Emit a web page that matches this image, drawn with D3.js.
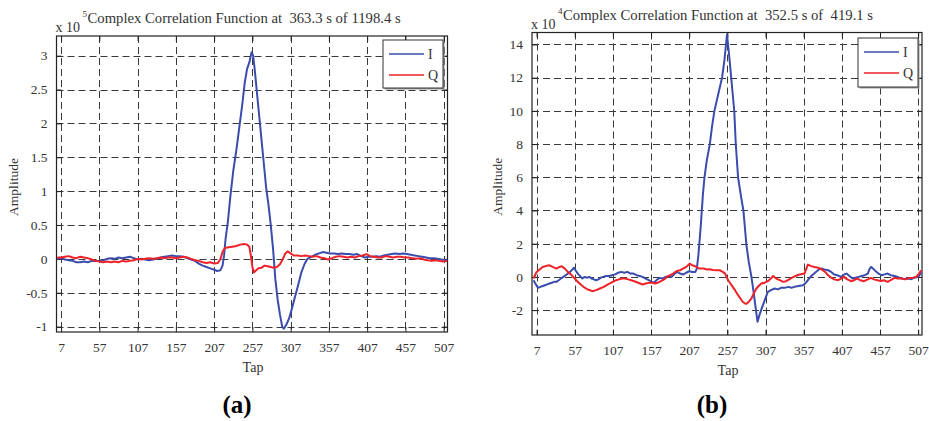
<!DOCTYPE html>
<html>
<head>
<meta charset="utf-8">
<script src="https://cdn.jsdelivr.net/npm/d3@7"></script>
<style>
  html, body { margin: 0; padding: 0; background: #fff; }
  svg { display: block; }
  text { font-family: "Liberation Serif", "Times New Roman", serif; fill: #333; }
</style>
</head>
<body>
<svg id="chart" width="929" height="421"></svg>
<script>
// Tap axis ticks shared by both panels
const tapTicks = [7, 57, 107, 157, 207, 257, 307, 357, 407, 457, 507];

// Panel (a): amplitude ticks (x 10^5)
const ampTicksA = [3, 2.5, 2, 1.5, 1, 0.5, 0, -0.5, -1];
// Panel (b): amplitude ticks (x 10^4)
const ampTicksB = [14, 12, 10, 8, 6, 4, 2, 0, -2];

const seriesNames = ["I", "Q"];
const seriesColors = ["#3a4cad", "#ee2229"];

// Panel (a) — in-phase component, [tap, amplitude]
const aI = [[2,0.0],[7,0.01],[12,-0.01],[17,-0.02],[22,-0.03],[27,-0.05],[32,-0.05],[37,-0.04],[42,-0.05],[47,-0.03],[52,-0.03],[57,-0.03],[62,-0.02],[67,0.0],[72,0.01],[77,0.0],[82,0.02],[87,0.01],[92,0.02],[97,0.03],[102,0.01],[107,-0.01],[112,0.0],[117,-0.01],[122,-0.02],[127,-0.01],[132,0.0],[137,0.02],[142,0.03],[147,0.04],[152,0.05],[157,0.04],[162,0.04],[167,0.03],[172,0.01],[177,-0.01],[182,-0.03],[187,-0.07],[192,-0.1],[197,-0.12],[202,-0.14],[207,-0.16],[211,-0.18],[215,-0.17],[218,-0.1],[220,0.05],[222,0.3],[225,0.55],[228,0.9],[232,1.3],[236,1.6],[240,1.95],[244,2.3],[247,2.6],[250,2.8],[253,2.9],[256,3.05],[258,3.0],[260,2.8],[263,2.45],[266,2.1],[269,1.75],[272,1.4],[275,1.05],[278,0.8],[281,0.5],[284,0.15],[287,-0.3],[290,-0.6],[293,-0.82],[296,-1.0],[298,-1.03],[301,-0.98],[305,-0.88],[309,-0.72],[313,-0.55],[317,-0.38],[321,-0.2],[325,-0.08],[329,0.0],[334,0.03],[339,0.06],[344,0.08],[349,0.1],[354,0.09],[359,0.08],[364,0.08],[369,0.07],[374,0.08],[379,0.07],[384,0.07],[389,0.06],[394,0.07],[399,0.04],[404,0.02],[409,0.03],[414,0.03],[419,0.04],[424,0.03],[429,0.05],[434,0.06],[439,0.07],[444,0.08],[449,0.07],[454,0.08],[459,0.07],[464,0.06],[469,0.05],[474,0.04],[479,0.03],[484,0.02],[489,0.01],[494,0.01],[499,0.0],[504,-0.01],[509,-0.02],[512,-0.02]];

// Panel (a) — quadrature component
const aQ = [[2,0.02],[7,0.02],[12,0.03],[17,0.04],[22,0.02],[27,0.01],[32,0.03],[37,0.02],[42,0.01],[47,-0.01],[52,-0.03],[57,-0.04],[62,-0.05],[67,-0.04],[72,-0.05],[77,-0.04],[82,-0.05],[87,-0.03],[92,-0.04],[97,-0.03],[102,-0.02],[107,0.0],[112,-0.01],[117,0.0],[122,0.01],[127,0.0],[132,0.01],[137,0.02],[142,0.01],[147,0.02],[152,0.02],[157,0.01],[162,0.02],[167,0.03],[172,0.02],[177,0.0],[182,-0.02],[187,-0.03],[192,-0.05],[197,-0.06],[202,-0.05],[207,-0.07],[212,-0.06],[215,-0.01],[218,0.1],[221,0.16],[226,0.17],[231,0.18],[236,0.19],[241,0.21],[246,0.22],[250,0.21],[253,0.18],[255,0.05],[257,-0.12],[259,-0.2],[262,-0.17],[265,-0.14],[269,-0.13],[273,-0.1],[277,-0.11],[281,-0.12],[285,-0.13],[289,-0.12],[293,-0.08],[297,0.0],[300,0.08],[303,0.11],[307,0.08],[311,0.05],[316,0.05],[321,0.04],[326,0.05],[331,0.04],[336,0.03],[341,0.04],[346,0.02],[351,0.01],[356,-0.01],[361,0.01],[366,0.03],[371,0.04],[376,0.03],[381,0.02],[386,0.03],[391,0.02],[396,0.04],[401,0.05],[406,0.07],[411,0.04],[416,0.03],[421,0.02],[426,0.02],[431,0.04],[436,0.03],[441,0.02],[446,0.03],[451,0.03],[456,0.02],[461,0.02],[466,0.01],[471,0.0],[476,0.01],[481,-0.01],[486,-0.02],[491,-0.03],[496,-0.02],[501,-0.03],[506,-0.04],[512,-0.03]];

// Panel (b) — in-phase component
const bI = [[3,-0.2],[6,-0.45],[9,-0.66],[12,-0.6],[15,-0.55],[18,-0.5],[21,-0.45],[24,-0.4],[27,-0.35],[30,-0.3],[33,-0.3],[36,-0.2],[39,-0.1],[42,0.0],[45,0.1],[48,0.2],[51,0.3],[54,0.45],[56,0.55],[58,0.4],[61,0.2],[64,0.05],[67,-0.1],[70,0.0],[73,-0.05],[76,0.0],[79,-0.1],[82,-0.15],[85,-0.2],[88,-0.15],[91,-0.05],[94,0.0],[98,0.05],[102,0.05],[106,0.1],[110,0.15],[114,0.25],[118,0.3],[122,0.25],[126,0.3],[130,0.2],[134,0.2],[138,0.1],[142,0.05],[146,0.0],[150,-0.1],[154,-0.2],[158,-0.3],[161,-0.35],[164,-0.2],[168,-0.06],[172,-0.1],[176,0.0],[180,0.05],[184,0.0],[188,0.2],[191,0.3],[195,0.2],[199,0.14],[203,0.25],[207,0.34],[211,0.3],[215,0.3],[217,0.5],[219,1.3],[222,3.0],[225,5.0],[227,6.0],[230,7.0],[234,8.0],[237,9.1],[240,10.0],[245,11.0],[250,12.0],[253,13.0],[256.5,14.6],[259,13.5],[262,12.0],[264,11.0],[266,10.0],[268,8.0],[271,6.0],[275,4.8],[278,4.0],[282,1.9],[285,0.9],[288.5,0.0],[291,-0.8],[293,-1.5],[295,-2.2],[296.5,-2.7],[299,-2.3],[302,-1.9],[306,-1.4],[310,-0.9],[314,-0.8],[319,-0.7],[323,-0.75],[328,-0.65],[332,-0.66],[337,-0.6],[341,-0.65],[345,-0.6],[350,-0.55],[356,-0.5],[360,-0.35],[364,-0.1],[368,0.1],[373,0.3],[377,0.45],[380,0.5],[384,0.45],[389,0.4],[393,0.3],[397,0.14],[401,0.1],[406,0.0],[410,0.15],[413,0.2],[417,0.05],[421,-0.1],[425,-0.05],[429,0.0],[433,0.05],[437,0.1],[441,0.2],[443,0.45],[445,0.6],[448,0.5],[451,0.35],[455,0.2],[459,0.1],[463,0.15],[467,0.2],[471,0.1],[476,0.06],[480,0.0],[485,-0.1],[490,-0.12],[494,-0.1],[498,-0.14],[502,-0.05],[507,0.0],[510,0.2],[512,0.3]];

// Panel (b) — quadrature component
const bQ = [[3,-0.1],[5,0.1],[7,0.3],[11,0.45],[15,0.6],[19,0.65],[24,0.7],[28,0.6],[33,0.5],[37,0.6],[40,0.64],[44,0.5],[48,0.3],[52,0.15],[57,-0.1],[61,-0.3],[66,-0.5],[70,-0.65],[74,-0.76],[78,-0.82],[81,-0.86],[85,-0.8],[90,-0.7],[95,-0.6],[100,-0.46],[105,-0.35],[110,-0.22],[115,-0.15],[119,-0.1],[123,-0.1],[127,-0.15],[131,-0.2],[135,-0.26],[140,-0.35],[146,-0.46],[150,-0.4],[154,-0.36],[158,-0.34],[162,-0.4],[166,-0.35],[170,-0.25],[174,-0.15],[178,0.0],[182,0.1],[186,0.2],[190,0.34],[195,0.4],[199,0.5],[203,0.6],[207.6,0.8],[211,0.7],[214,0.66],[218,0.55],[221,0.5],[226,0.5],[230,0.45],[234,0.46],[238,0.42],[243,0.4],[247,0.4],[251,0.3],[254,0.2],[258,-0.2],[261,-0.4],[264,-0.6],[267,-0.8],[271,-1.1],[274,-1.3],[277,-1.5],[280,-1.6],[282,-1.62],[285,-1.5],[288.5,-1.3],[291,-1.05],[295,-0.7],[298,-0.55],[301.5,-0.4],[306,-0.35],[310,-0.26],[314,-0.1],[317,0.06],[321,-0.1],[325.7,-0.2],[330,-0.3],[334,-0.26],[338,-0.15],[341,-0.06],[346,0.05],[351.6,0.14],[358,0.2],[362.5,0.74],[367,0.65],[371,0.6],[376,0.55],[380,0.46],[385,0.3],[389,0.1],[393,-0.05],[397,-0.15],[402,-0.2],[406,-0.1],[410,0.0],[414,-0.15],[419,-0.26],[423,-0.2],[427,-0.1],[431,-0.2],[436,-0.26],[441,-0.15],[445,-0.06],[449,-0.15],[453.6,-0.2],[458,-0.25],[462,-0.2],[467,-0.3],[471,-0.2],[476,-0.06],[480,-0.1],[485,-0.1],[490,-0.15],[496,-0.06],[500,-0.05],[504.6,0.0],[508,0.2],[511,0.4]];

const titles = ["Complex Correlation Function at  363.3 s of 1198.4 s",
                "Complex Correlation Function at  352.5 s of  419.1 s"];
const exponents = ["5", "4"];
const panelLabels = ["(a)", "(b)"];

const svg = d3.select("#chart");

const panels = [
  { series: [aI, aQ], yTicks: ampTicksA, yDomain: [-1.08, 3.29],
    x0: 56.5, x1: 447.5, y0: 36, y1: 332, title: titles[0], exp: exponents[0],
    label: panelLabels[0], yLabelX: 14, legend: { x: 383, y: 40, w: 60, h: 48 } },
  { series: [bI, bQ], yTicks: ampTicksB, yDomain: [-3.5, 14.72],
    x0: 532, x1: 922, y0: 32.5, y1: 335, title: titles[1], exp: exponents[1],
    label: panelLabels[1], yLabelX: 498, legend: { x: 858, y: 38, w: 60, h: 49 } }
];

const fmt = d => String(d);

panels.forEach(p => {
  const x = d3.scaleLinear().domain([1, 512]).range([p.x0, p.x1]);
  const y = d3.scaleLinear().domain(p.yDomain).range([p.y1, p.y0]);
  const g = svg.append("g");
  const w = p.x1 - p.x0, h = p.y1 - p.y0;

  // dashed grid
  const grid = g.append("g").attr("stroke", "#3a3a3a").attr("stroke-width", 1)
    .attr("stroke-dasharray", "7,4").attr("fill", "none");
  tapTicks.forEach(t => {
    const xx = Math.round(x(t)) + 0.5;
    grid.append("line").attr("x1", xx).attr("x2", xx).attr("y1", p.y0).attr("y2", p.y1);
  });
  p.yTicks.forEach(t => {
    const yy = Math.round(y(t)) + 0.5;
    grid.append("line").attr("x1", p.x0).attr("x2", p.x1).attr("y1", yy).attr("y2", yy);
  });

  // axes with inward ticks on all four sides
  const tl = 5;
  const ax = g.append("g").attr("transform", `translate(0,${p.y1})`)
    .call(d3.axisBottom(x).tickValues(tapTicks).tickFormat(fmt).tickSizeInner(-tl).tickSizeOuter(0).tickPadding(10));
  const axTop = g.append("g").attr("transform", `translate(0,${p.y0})`)
    .call(d3.axisTop(x).tickValues(tapTicks).tickSizeInner(-tl).tickSizeOuter(0).tickFormat(""));
  const ay = g.append("g").attr("transform", `translate(${p.x0},0)`)
    .call(d3.axisLeft(y).tickValues(p.yTicks).tickFormat(fmt).tickSizeInner(-tl).tickSizeOuter(0).tickPadding(9));
  const ayR = g.append("g").attr("transform", `translate(${p.x1},0)`)
    .call(d3.axisRight(y).tickValues(p.yTicks).tickSizeInner(-tl).tickSizeOuter(0).tickFormat(""));
  [ax, axTop, ay, ayR].forEach(a => {
    a.select(".domain").remove();
    a.selectAll("line").attr("stroke", "#222");
    a.selectAll("text").attr("font-size", 13.5).attr("fill", "#333")
      .attr("font-family", "'Liberation Serif', 'Times New Roman', serif");
  });

  // box
  g.append("rect").attr("x", p.x0).attr("y", p.y0).attr("width", w).attr("height", h)
    .attr("fill", "none").attr("stroke", "#222").attr("stroke-width", 1.2);

  // data lines
  const line = d3.line().x(d => x(d[0])).y(d => y(d[1]));
  const clipId = "clip" + p.label.replace(/\W/g, "");
  g.append("clipPath").attr("id", clipId).append("rect")
    .attr("x", p.x0).attr("y", p.y0).attr("width", w).attr("height", h);
  p.series.forEach((s, i) => {
    g.append("path").datum(s).attr("d", line).attr("fill", "none")
      .attr("clip-path", `url(#${clipId})`)
      .attr("stroke", seriesColors[i]).attr("stroke-width", 2)
      .attr("stroke-linejoin", "round");
  });

  // legend
  const L = p.legend;
  const lg = g.append("g");
  lg.append("rect").attr("x", L.x + 1.5).attr("y", L.y + 1.5).attr("width", L.w).attr("height", L.h)
    .attr("fill", "#999");
  lg.append("rect").attr("x", L.x).attr("y", L.y).attr("width", L.w).attr("height", L.h)
    .attr("fill", "#fff").attr("stroke", "#333").attr("stroke-width", 1);
  seriesNames.forEach((n, i) => {
    const ly = L.y + 14 + i * 21;
    lg.append("line").attr("x1", L.x + 6).attr("x2", L.x + 41).attr("y1", ly).attr("y2", ly)
      .attr("stroke", seriesColors[i]).attr("stroke-width", 1.6);
    lg.append("text").attr("x", L.x + 45).attr("y", ly + 5).attr("font-size", 14).text(n);
  });

  // titles and labels
  g.append("text").attr("x", p.x0 - 1).attr("y", p.y0 - 4).attr("font-size", 14).text("x 10");
  g.append("text").attr("x", p.x0 + 26).attr("y", p.y0 - 19).attr("font-size", 9).text(p.exp);
  g.append("text").attr("x", p.x0 + 31).attr("y", p.y0 - 13).attr("font-size", 14.7).text(p.title)
    .attr("xml:space", "preserve").style("white-space", "pre");
  g.append("text").attr("transform", `translate(${p.yLabelX + 4},${(p.y0 + p.y1) / 2 + 3}) rotate(-90)`)
    .attr("text-anchor", "middle").attr("font-size", 13.5).text("Amplitude");
  g.append("text").attr("x", (p.x0 + p.x1) / 2 + 1).attr("y", p.y1 + 40)
    .attr("text-anchor", "middle").attr("font-size", 14).text("Tap");
  g.append("text").attr("x", (p.x0 + p.x1) / 2 - 15).attr("y", 413)
    .attr("text-anchor", "middle").attr("font-size", 25).attr("font-weight", "bold")
    .attr("fill", "#000").style("fill", "#000").text(p.label);
});
</script>
</body>
</html>
